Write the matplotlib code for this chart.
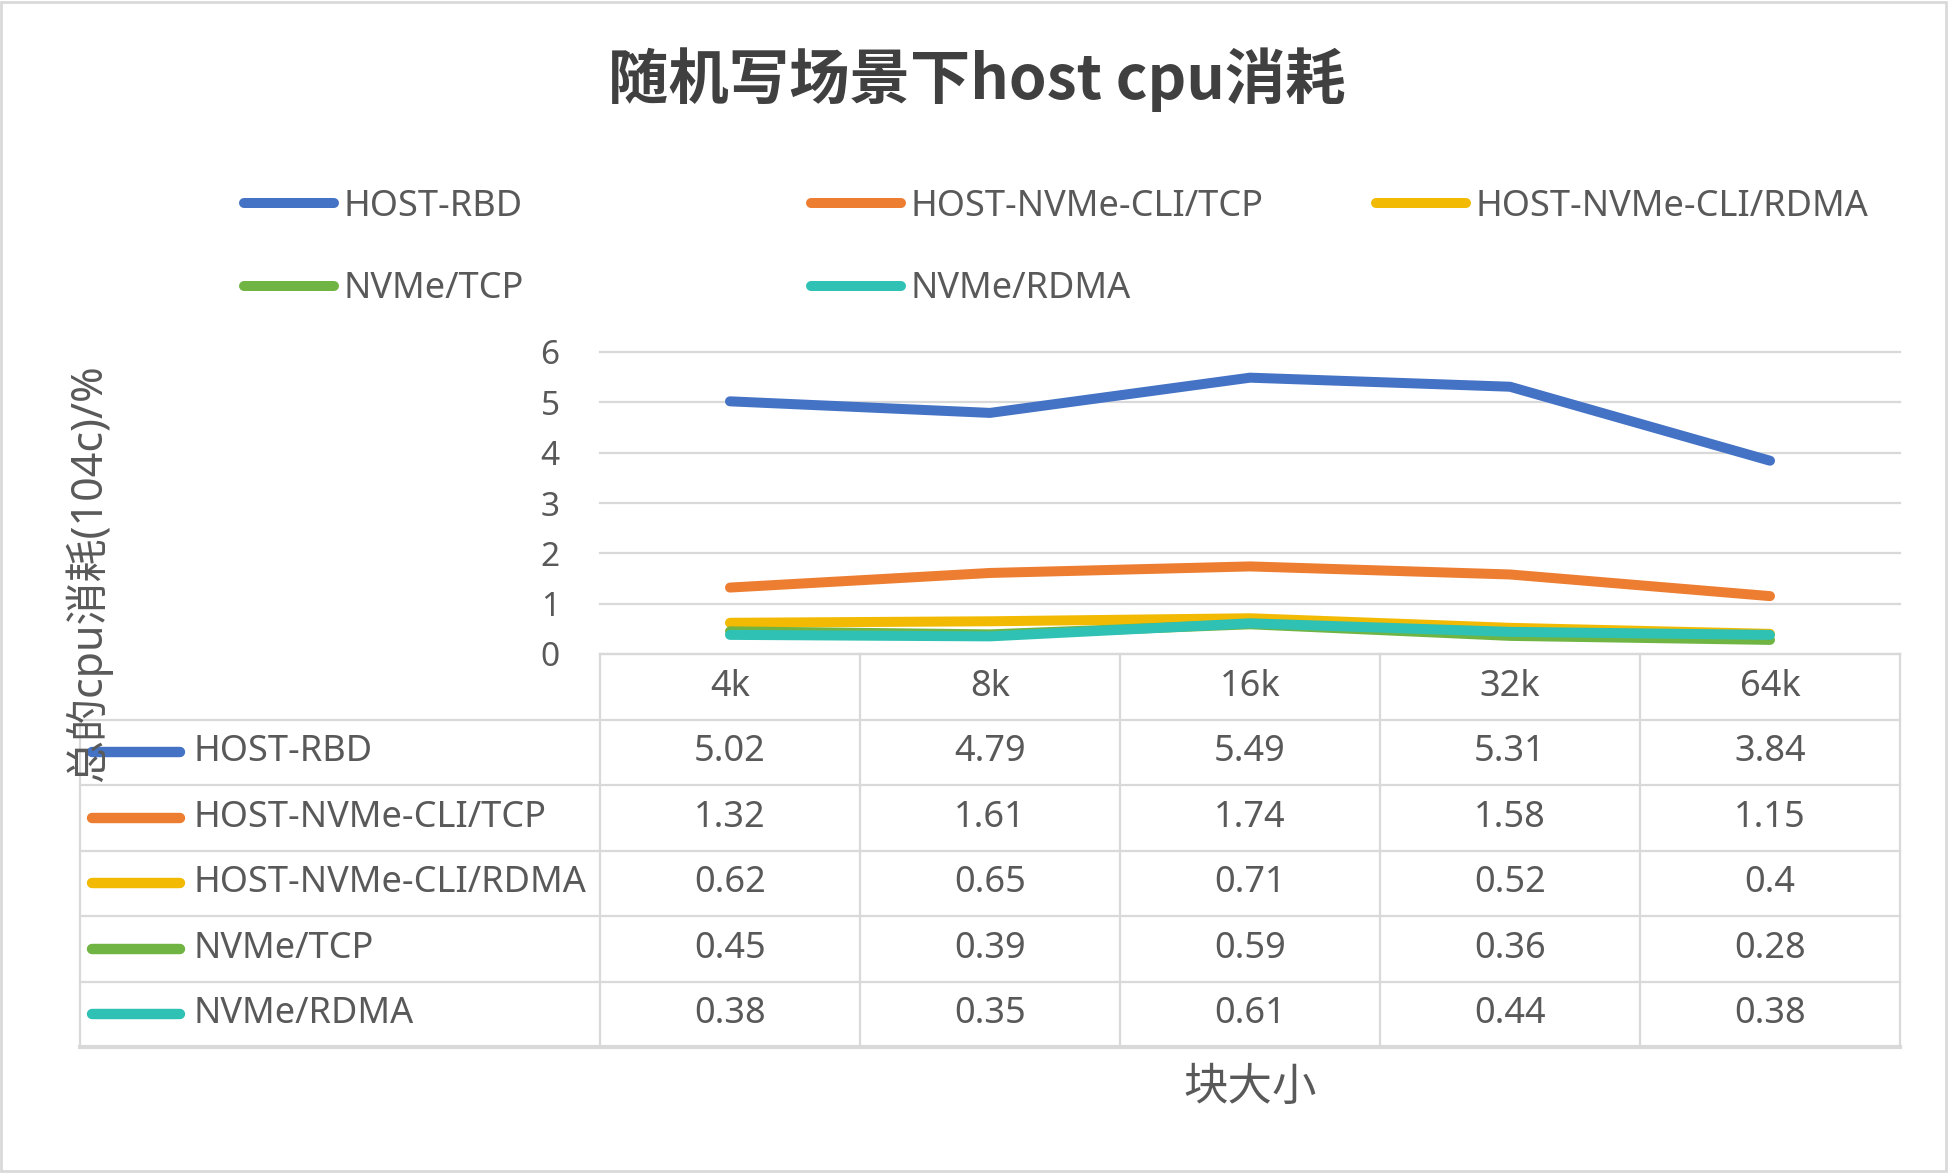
import matplotlib
matplotlib.use("Agg")
import matplotlib.pyplot as plt
from matplotlib.patches import Rectangle

FAM = ['Noto Sans', 'Noto Sans CJK SC', 'DejaVu Sans']
plt.rcParams['font.family'] = FAM

# ---- data ----
title = "随机写场景下host cpu消耗"
categories = ["4k", "8k", "16k", "32k", "64k"]
series_names = ["HOST-RBD", "HOST-NVMe-CLI/TCP", "HOST-NVMe-CLI/RDMA", "NVMe/TCP", "NVMe/RDMA"]
host_rbd = [5.02, 4.79, 5.49, 5.31, 3.84]
host_nvme_cli_tcp = [1.32, 1.61, 1.74, 1.58, 1.15]
host_nvme_cli_rdma = [0.62, 0.65, 0.71, 0.52, 0.4]
nvme_tcp = [0.45, 0.39, 0.59, 0.36, 0.28]
nvme_rdma = [0.38, 0.35, 0.61, 0.44, 0.38]
y_ticks = [0, 1, 2, 3, 4, 5, 6]
y_label = "总的cpu消耗(104c)/%"
x_label = "块大小"

series = [host_rbd, host_nvme_cli_tcp, host_nvme_cli_rdma, nvme_tcp, nvme_rdma]
colors = ["#4472C4", "#ED7D31", "#F2BA02", "#70B543", "#2EC1B4"]
text_c = "#595959"
grid_c = "#D9D9D9"

W, H = 1952, 1173
fig = plt.figure(figsize=(W / 100, H / 100), dpi=100)


def box(l, t, r, b):
    return [l / W, 1 - b / H, (r - l) / W, (b - t) / H]


# ---- main plot ----
ax = fig.add_axes(box(600, 352, 1900, 654))
xs = list(range(len(categories)))
lines = []
for vals, c, name in zip(series, colors, series_names):
    ln, = ax.plot(xs, vals, color=c, lw=7.2, solid_capstyle='round',
                  solid_joinstyle='round', label=name, zorder=3)
    lines.append(ln)
ax.set_xlim(-0.5, len(categories) - 0.5)
ax.set_ylim(0, 6)
ax.set_yticks(y_ticks)
ax.set_xticks([])
ax.tick_params(axis='y', length=0, pad=29, labelsize=24, labelcolor=text_c)
for s in ['left', 'right', 'top']:
    ax.spines[s].set_visible(False)
ax.spines['bottom'].set_color(grid_c)
ax.spines['bottom'].set_linewidth(1.6)
ax.set_axisbelow(True)
ax.yaxis.grid(True, color=grid_c, lw=1.6)
for gl in ax.get_ygridlines():
    gl.set_clip_on(False)

# ---- data table ----
tab = fig.add_axes(box(80, 654, 1900, 1047))
tab.set_xlim(-2.5, len(categories) - 0.5)
tab.set_ylim(6, 0)
tab.axis('off')
for r in range(1, 6):
    tab.plot([-2.5, 4.5], [r, r], color=grid_c, lw=1.6, clip_on=False)
tab.plot([-2.5, 4.5], [6, 6], color=grid_c, lw=3, clip_on=False)
for xb in [-0.5, 0.5, 1.5, 2.5, 3.5, 4.5]:
    tab.plot([xb, xb], [0, 6], color=grid_c, lw=1.6, clip_on=False)
tab.plot([-2.5, -2.5], [1, 6], color=grid_c, lw=1.6, clip_on=False)
for i, cat in enumerate(categories):
    tab.text(i, 0.5, cat, ha='center', va='center', fontsize=26, color=text_c)
for r, (vals, c, name) in enumerate(zip(series, colors, series_names)):
    yc = r + 1.5
    tab.plot([-2.455, -2.115], [yc, yc], color=c, lw=7.5, solid_capstyle='round', clip_on=False)
    tab.text(-2.065, yc, name, ha='left', va='center', fontsize=26, color=text_c)
    for i, v in enumerate(vals):
        tab.text(i, yc, f"{v:g}", ha='center', va='center', fontsize=26, color=text_c)

# ---- legend (three columns) ----
col_groups = [[0, 3], [1, 4], [2]]
col_x = [244, 811, 1376]
for grp, cx in zip(col_groups, col_x):
    fig.legend(handles=[lines[k] for k in grp], loc='upper left',
               bbox_to_anchor=(cx / W, 1 - 189 / H), frameon=False,
               fontsize=26, labelcolor=text_c, handlelength=2.5,
               handletextpad=0.25, labelspacing=1.28, borderpad=0, borderaxespad=0)

# ---- titles ----
fig.text(977 / W, 1 - 80 / H, title, ha='center', va='center', fontsize=43.5,
         fontweight='bold', color='#404040', family=['Noto Sans CJK SC', 'DejaVu Sans'])
fig.text(88 / W, 1 - 573 / H, y_label, ha='center', va='center', rotation=90,
         fontsize=31, color=text_c)
fig.text(1250 / W, 1 - 1089 / H, x_label, ha='center', va='center',
         fontsize=32, color=text_c)

# ---- outer border ----
fig.patches.append(Rectangle((1 / W, (H - 1171) / H), 1945 / W, 1169 / H,
                             transform=fig.transFigure, fill=False,
                             ec=grid_c, lw=2))

fig.savefig("out.png", dpi=100)
